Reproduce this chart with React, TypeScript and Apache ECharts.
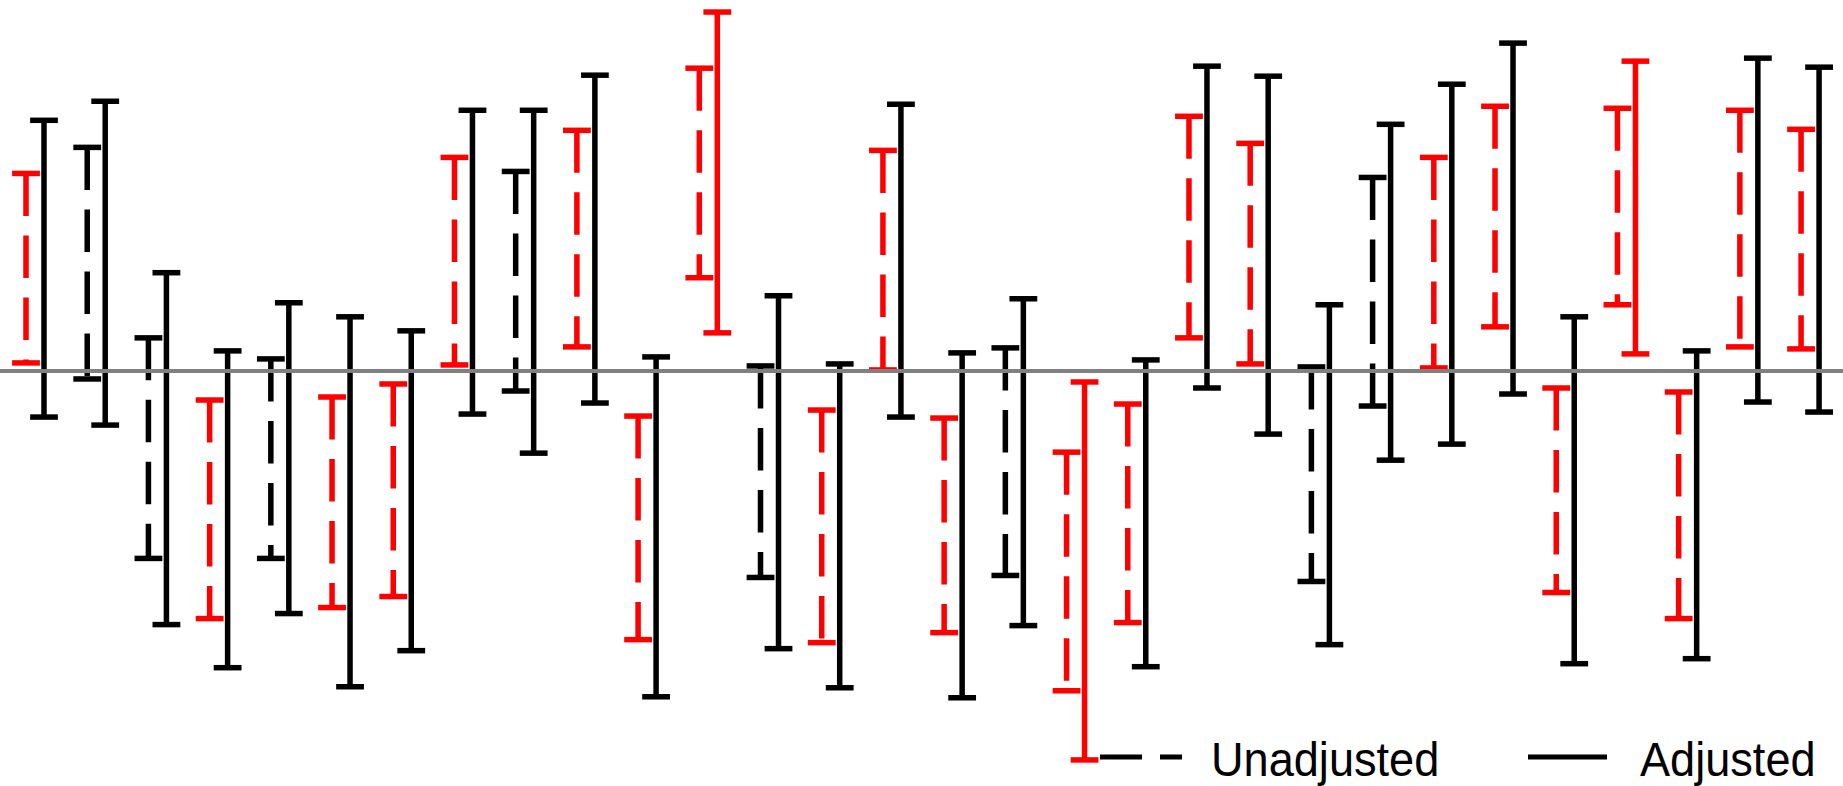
import React, { useEffect, useRef } from "react";
import * as echarts from "echarts";

// Interval estimates, 30 comparisons (same arbitrary units for all)
const unadjLo = [0.08, -0.08, -1.87, -2.47, -1.87, -2.36, -2.25, 0.06, -0.2, 0.24, -2.68, 0.93, -2.06, -2.71, 0.01, -2.61, -2.04, -3.19, -2.51, 0.33, 0.07, -2.1, -0.35, 0.03, 0.44, -2.21, 0.66, -2.47, 0.24, 0.22];
const unadjHi = [1.97, 2.23, 0.33, -0.29, 0.12, -0.26, -0.13, 2.13, 1.99, 2.4, -0.45, 3.02, 0.05, -0.39, 2.2, -0.47, 0.23, -0.81, -0.33, 2.54, 2.27, 0.04, 1.93, 2.13, 2.64, -0.17, 2.62, -0.21, 2.6, 2.41];
const adjLo = [-0.46, -0.54, -2.53, -2.96, -2.42, -3.15, -2.79, -0.43, -0.82, -0.32, -3.25, 0.38, -2.77, -3.16, -0.46, -3.26, -2.54, -3.88, -2.95, -0.17, -0.63, -2.73, -0.89, -0.73, -0.23, -2.92, 0.17, -2.87, -0.31, -0.41];
const adjHi = [2.5, 2.69, 0.98, 0.2, 0.68, 0.54, 0.4, 2.6, 2.6, 2.95, 0.14, 3.58, 0.75, 0.07, 2.66, 0.18, 0.72, -0.11, 0.11, 3.04, 2.94, 0.66, 2.46, 2.86, 3.27, 0.54, 3.09, 0.2, 3.12, 3.03];

const legendLabels = ["Unadjusted", "Adjusted"];

const RED = "#ff0000";
const BLACK = "#000000";
const LW = 5.5;
const CAP = 13.9;
const OFFSET = 0.147;
const DASH = [42.5, 19.5];

function makeRenderItem(offset: number, dashed: boolean) {
  return (params: any, api: any) => {
    const x = api.value(0) + offset;
    const lo = api.value(1);
    const hi = api.value(2);
    const top = api.coord([x, hi]);
    const bot = api.coord([x, lo]);
    const color = lo > 0 || hi < 0 ? RED : BLACK;
    return {
      type: "group",
      children: [
        {
          type: "line",
          shape: { x1: top[0], y1: top[1], x2: bot[0], y2: bot[1] },
          style: { stroke: color, lineWidth: LW, lineDash: dashed ? DASH : null },
        },
        {
          type: "line",
          shape: { x1: top[0] - CAP, y1: top[1], x2: top[0] + CAP, y2: top[1] },
          style: { stroke: color, lineWidth: LW },
        },
        {
          type: "line",
          shape: { x1: bot[0] - CAP, y1: bot[1], x2: bot[0] + CAP, y2: bot[1] },
          style: { stroke: color, lineWidth: LW },
        },
      ],
    };
  };
}

export default function App() {
  const ref = useRef<HTMLDivElement>(null);
  useEffect(() => {
    if (!ref.current) return;
    const chart = echarts.init(ref.current, null, { renderer: "svg" });
    const unadjData = unadjLo.map((lo, i) => [i, lo, unadjHi[i]]);
    const adjData = adjLo.map((lo, i) => [i, lo, adjHi[i]]);
    const legendFont = "48px 'Liberation Sans', Arial, sans-serif";
    chart.setOption({
      animation: false,
      backgroundColor: "#ffffff",
      grid: { left: 0, right: 0, top: 0, bottom: 0 },
      xAxis: { type: "value", min: -0.5718, max: 29.538, show: false },
      yAxis: { type: "value", min: -4.14, max: 3.7, show: false },
      series: [
        {
          name: legendLabels[0],
          type: "custom",
          renderItem: makeRenderItem(-OFFSET, true),
          data: unadjData,
          encode: { x: 0, y: [1, 2] },
          clip: false,
        },
        {
          name: legendLabels[1],
          type: "custom",
          renderItem: makeRenderItem(OFFSET, false),
          data: adjData,
          encode: { x: 0, y: [1, 2] },
          clip: false,
          markLine: {
            silent: true,
            symbol: "none",
            label: { show: false },
            z: 10,
            lineStyle: { color: "#808080", width: 4, type: "solid" },
            data: [{ yAxis: 0 }],
          },
        },
      ],
      graphic: [
        {
          type: "line",
          shape: { x1: 1100, y1: 757, x2: 1182, y2: 757 },
          style: { stroke: BLACK, lineWidth: 5, lineDash: [42, 18] },
        },
        {
          type: "text",
          x: 1211,
          y: 760,
          scaleX: 0.94,
          style: {
            text: legendLabels[0],
            fill: BLACK,
            font: legendFont,
            verticalAlign: "middle",
            align: "left",
          },
        },
        {
          type: "line",
          shape: { x1: 1528, y1: 757, x2: 1607, y2: 757 },
          style: { stroke: BLACK, lineWidth: 5 },
        },
        {
          type: "text",
          x: 1640,
          y: 760,
          scaleX: 0.94,
          style: {
            text: legendLabels[1],
            fill: BLACK,
            font: legendFont,
            verticalAlign: "middle",
            align: "left",
          },
        },
      ],
    });
    return () => chart.dispose();
  }, []);
  return (
    <div
      ref={ref}
      style={{ position: "absolute", left: 0, top: 0, width: 1843, height: 786 }}
    />
  );
}
